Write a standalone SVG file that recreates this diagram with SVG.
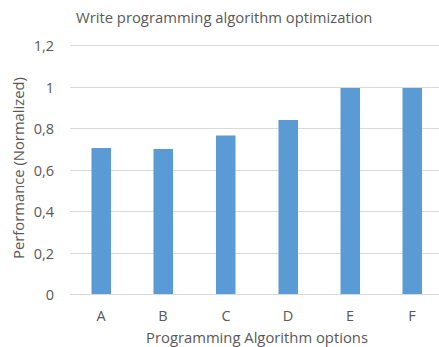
<svg xmlns="http://www.w3.org/2000/svg" width="439" height="347" viewBox="0 0 439 347">
<style>
text{font-family:"Open Sans","Liberation Sans",sans-serif;fill:#595959;font-size:14.8px}
.tick{text-anchor:end;font-size:14.5px}
.cat{text-anchor:middle}
.lbl{text-anchor:middle;font-size:14.5px}
.grid{stroke:#D9D9D9;stroke-width:1}
.bar{fill:#5B9BD5}
</style>
<rect width="439" height="347" fill="#ffffff"/>
<text id="title" x="76" y="23">Write programming algorithm optimization</text>
<g id="gridlines">
<line class="grid" x1="70" y1="45.5" x2="439" y2="45.5"/>
<line class="grid" x1="70" y1="87.5" x2="439" y2="87.5"/>
<line class="grid" x1="70" y1="128.5" x2="439" y2="128.5"/>
<line class="grid" x1="70" y1="170.5" x2="439" y2="170.5"/>
<line class="grid" x1="70" y1="211.5" x2="439" y2="211.5"/>
<line class="grid" x1="70" y1="253.5" x2="439" y2="253.5"/>
<line class="grid" x1="70" y1="294.5" x2="439" y2="294.5"/>
</g>
<g id="yticks">
<text class="tick" x="54" y="50.5">1,2</text>
<text class="tick" x="54" y="92.5">1</text>
<text class="tick" x="54" y="133.5">0,8</text>
<text class="tick" x="54" y="175.5">0,6</text>
<text class="tick" x="54" y="216.5">0,4</text>
<text class="tick" x="54" y="258.5">0,2</text>
<text class="tick" x="54" y="299.5">0</text>
</g>
<g id="bars">
<rect id="bar-A" class="bar" x="91.5" y="148" width="19.5" height="146"/>
<rect id="bar-B" class="bar" x="153.5" y="149" width="19.5" height="145"/>
<rect id="bar-C" class="bar" x="216" y="135.5" width="19.5" height="158.5"/>
<rect id="bar-D" class="bar" x="278.5" y="120" width="19.5" height="174"/>
<rect id="bar-E" class="bar" x="340.5" y="88" width="19.5" height="206"/>
<rect id="bar-F" class="bar" x="402.5" y="88" width="19.5" height="206"/>
</g>
<g id="xticks">
<text class="lbl" x="101" y="320.5">A</text>
<text class="lbl" x="163" y="320.5">B</text>
<text class="lbl" x="226" y="320.5">C</text>
<text class="lbl" x="288" y="320.5">D</text>
<text class="lbl" x="350" y="320.5">E</text>
<text class="lbl" x="412" y="320.5">F</text>
</g>
<text id="x-title" class="cat" x="257" y="343">Programming Algorithm options</text>
<text id="y-title" class="cat" transform="translate(24,168) rotate(-90)">Performance (Normalized)</text>
</svg>
